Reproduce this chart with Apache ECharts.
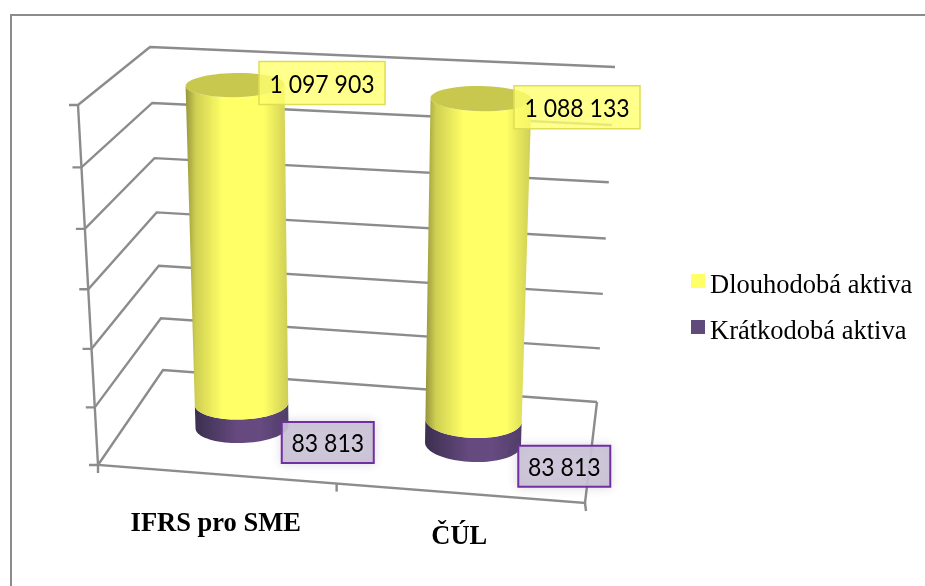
<!DOCTYPE html>
<html>
<head>
<meta charset="utf-8">
<style>html,body{margin:0;padding:0;background:#fff}#chart{width:925px;height:586px}</style>
<script src="https://cdn.jsdelivr.net/npm/echarts@6/dist/echarts.min.js"></script>
</head>
<body>
<div id="chart"></div>
<script>
// Chart data
const categories = ['IFRS pro SME', 'ČÚL'];
const longTermAssets = [1097903, 1088133];
const shortTermAssets = [83813, 83813];
const valueTicks = [0, 200000, 400000, 600000, 800000, 1000000, 1200000];
const categoryTicks = [0, 0.49, 1];

// Oblique view of the chart box: [x, y] screen anchors of the walls and floor
const VIEW = {
  backBL: [163, 370], backBR: [597, 402], backTL: [150, 47], backTR: [615, 67],
  frontBL: [98, 465], frontBR: [585, 503], frontTL: [78, 105],
  barBL: [126.5, 418.5], barBR: [588.5, 452.5], barTL: [111.75, 74.3], barTR: [604.35, 95.2]
};
const GRID = { left: 100, top: 60, width: 500, height: 400 };
const VALUE_MAX = 1200000;
const CATEGORY_DROP = [49.5, 44];

const lerp = (a, b, t) => a + (b - a) * t;
const mix = (p, q, t) => [lerp(p[0], q[0], t), lerp(p[1], q[1], t)];
const bilinear = (bl, br, tl, tr, u, v) => mix(mix(bl, br, u), mix(tl, tr, u), v);
// Slight foreshortening: value intervals grow gently towards the top of the box
const foreshorten = v => v + 0.048 * (v * v - v);

// Convert a pixel from the flat cartesian grid to fractions of its width and height
const toUnit = p => [(p[0] - GRID.left) / GRID.width, (GRID.top + GRID.height - p[1]) / GRID.height];

const onBack = (u, v) => bilinear(VIEW.backBL, VIEW.backBR, VIEW.backTL, VIEW.backTR, u, foreshorten(v));
const onFrontLeft = v => mix(VIEW.frontBL, VIEW.frontTL, foreshorten(v));
const onBarPlane = (u, v) => bilinear(VIEW.barBL, VIEW.barBR, VIEW.barTL, VIEW.barTR, u, foreshorten(v));

const formatValue = n => String(n).replace(/\B(?=(\d{3})+$)/g, ' ');

const GRID_LINE = { stroke: '#8c8c8c', lineWidth: 2.4, fill: null };

// Walls: every value tick runs from the front-left edge, to the back corner, along the back wall
function renderWall(params, api) {
  const v = toUnit(api.coord([0, api.value(1)]))[1];
  const f = onFrontLeft(v);
  const b = onBack(0, v);
  const r = onBack(1, v);
  return {
    type: 'group',
    children: [
      { type: 'polyline', shape: { points: [[f[0] - 9, f[1]], f, b, r] }, style: GRID_LINE }
    ]
  };
}

// Floor: front edge, right edge, left vertical edge and category ticks
function renderFloor(params, api) {
  const u = api.value(0);
  const p = mix(VIEW.frontBL, VIEW.frontBR, u);
  const children = [
    { type: 'line', shape: { x1: p[0], y1: p[1], x2: p[0] + (u === 1 ? 1 : 0), y2: p[1] + 8 }, style: GRID_LINE }
  ];
  if (params.dataIndex === 0) {
    children.push(
      { type: 'polyline', shape: { points: [VIEW.frontTL, VIEW.frontBL, VIEW.frontBR, VIEW.backBR] }, style: GRID_LINE }
    );
  }
  return { type: 'group', children };
}

// Points of an ellipse arc, rotated by tilt (degrees)
function ellipseArc(c, rx, ry, tilt, from, to, steps) {
  const a = tilt * Math.PI / 180, pts = [];
  for (let i = 0; i <= steps; i++) {
    const t = lerp(from, to, i / steps);
    const x = rx * Math.cos(t), y = ry * Math.sin(t);
    pts.push([c[0] + x * Math.cos(a) - y * Math.sin(a), c[1] + x * Math.sin(a) + y * Math.cos(a)]);
  }
  return pts;
}

function ellipseAt(u, v) {
  return {
    c: onBarPlane(u, v),
    rx: lerp(46.5 + 3 * (u - 0.25), 49.5 + 2 * (u - 0.25), v),
    ry: lerp(16 + 4 * (u - 0.25), 12 + (u - 0.25), v),
    tilt: (u - 0.5) * lerp(8, 4, v)
  };
}

// One cylinder segment between two stacked values, with its value box
function makeCylinder(style) {
  return function (params, api) {
    const cat = api.value(0);
    const lowPix = toUnit(api.coord([cat, api.value(1)]));
    const highPix = toUnit(api.coord([cat, api.value(2)]));
    const u = lowPix[0];
    const lo = ellipseAt(u, lowPix[1]);
    const hi = ellipseAt(u, highPix[1]);
    const front = ellipseArc(lo.c, lo.rx, lo.ry, lo.tilt, 0, Math.PI, 40);
    const back = ellipseArc(hi.c, hi.rx, hi.ry, hi.tilt, Math.PI, 0, 40);
    const anchor = style.anchorTop ? hi.c : [lerp(lo.c[0], hi.c[0], 0.5), lerp(lo.c[1], hi.c[1], 0.5)];
    const offset = style.labelOffset[cat];
    const cx = anchor[0] + offset[0], cy = anchor[1] + offset[1];
    const children = [
      {
        type: 'polygon',
        shape: { points: front.concat(back) },
        style: { fill: new echarts.graphic.LinearGradient(0, 0, 1, 0, style.side) }
      }
    ];
    if (style.cap) {
      children.push({
        type: 'polygon',
        shape: { points: ellipseArc(hi.c, hi.rx, hi.ry, hi.tilt, 0, Math.PI * 2, 60) },
        style: { fill: style.cap }
      });
    }
    children.push(
      {
        type: 'rect',
        shape: { x: cx - style.boxW / 2, y: cy - style.boxH / 2, width: style.boxW, height: style.boxH },
        style: { fill: style.boxFill, stroke: style.boxStroke, lineWidth: style.boxLine,
                 shadowBlur: 10, shadowColor: style.boxGlow }
      },
      {
        type: 'text',
        x: cx, y: cy + 1.5, scaleX: 0.92,
        style: { x: 0, y: 0, text: formatValue(api.value(3)), align: 'center', verticalAlign: 'middle',
                 fill: '#000', font: '25px Lato, Carlito, sans-serif' }
      }
    );
    return { type: 'group', children };
  };
}

// Category names sit below the front floor edge and follow its slope
function renderCategory(params, api) {
  const i = api.value(0);
  const u = toUnit(api.coord([i, 0]))[0];
  const p = mix(VIEW.frontBL, VIEW.frontBR, u);
  return {
    type: 'text',
    style: { x: p[0] - 4, y: p[1] + CATEGORY_DROP[i], text: categories[i], align: 'center', verticalAlign: 'middle',
             fill: '#000', font: 'bold 26.5px "Liberation Serif", serif' }
  };
}

const YELLOW = '#ffff66';
const PURPLE = '#604a7b';

const shortData = categories.map((c, i) => [i, 0, shortTermAssets[i], shortTermAssets[i]]);
const longData = categories.map((c, i) => [i, shortTermAssets[i], shortTermAssets[i] + longTermAssets[i], longTermAssets[i]]);

const chart = echarts.init(document.getElementById('chart'), null, { renderer: 'canvas' });
chart.setOption({
  animation: false,
  backgroundColor: '#fff',
  grid: GRID,
  xAxis: { type: 'category', data: categories, show: false },
  yAxis: { type: 'value', min: 0, max: VALUE_MAX, interval: 200000, show: false },
  legend: {
    // The swatch path reserves empty room below the square, lifting it slightly above the text centre
    orient: 'vertical', left: 686, top: 266, itemWidth: 14, itemHeight: 24, itemGap: 16,
    icon: 'path://M0 0H14V14H0Z M14 24L14 24', selectedMode: false,
    data: ['Dlouhodobá aktiva', 'Krátkodobá aktiva'],
    textStyle: { fontFamily: '"Liberation Serif", serif', fontSize: 26.5, lineHeight: 30, color: '#000' }
  },
  graphic: [
    { type: 'polyline', silent: true, shape: { points: [[11, 586], [11, 15], [925, 15]] },
      style: { stroke: '#8c8c8c', lineWidth: 2, fill: null } }
  ],
  series: [
    { type: 'custom', name: 'Stěny', silent: true, renderItem: renderWall, z: 1,
      data: valueTicks.map(v => [0, v]), encode: { x: 0, y: 1 } },
    { type: 'custom', name: 'Podlaha', silent: true, xAxisIndex: 0, renderItem: renderFloor, z: 1,
      data: categoryTicks.map(t => [t, 0]), encode: { y: 1 }, dimensions: ['u', 'v'] },
    { type: 'custom', name: 'Krátkodobá aktiva', silent: true, z: 2, itemStyle: { color: PURPLE },
      encode: { x: 0, y: [1, 2] }, data: shortData,
      renderItem: makeCylinder({
        side: [{ offset: 0, color: '#3b2f4e' }, { offset: 0.45, color: '#65497f' }, { offset: 0.7, color: '#664a80' }, { offset: 1, color: '#4f3d68' }],
        labelOffset: [[86, 27], [91, 34]],
        boxW: 92, boxH: 41, boxFill: 'rgba(204,196,216,0.92)', boxStroke: '#7030a0', boxLine: 2,
        boxGlow: 'rgba(96,74,123,0.18)'
      }) },
    { type: 'custom', name: 'Dlouhodobá aktiva', silent: true, z: 3, itemStyle: { color: YELLOW },
      encode: { x: 0, y: [1, 2] }, data: longData,
      renderItem: makeCylinder({
        side: [{ offset: 0, color: '#96963c' }, { offset: 0.1, color: '#cfcf52' }, { offset: 0.36, color: '#ffff66' }, { offset: 0.76, color: '#ffff66' }, { offset: 1, color: '#cdcd55' }],
        cap: '#c8c84f', anchorTop: true,
        labelOffset: [[87, -2], [96, 8.5]],
        boxW: 126, boxH: 43, boxFill: 'rgba(255,255,110,0.8)', boxStroke: '#dede55', boxLine: 1.5,
        boxGlow: 'rgba(0,0,0,0)'
      }) },
    { type: 'custom', name: 'Kategorie', silent: true, z: 4, renderItem: renderCategory,
      data: categories.map((c, i) => [i, 0]), encode: { x: 0, y: 1 } }
  ]
});
</script>
</body>
</html>
